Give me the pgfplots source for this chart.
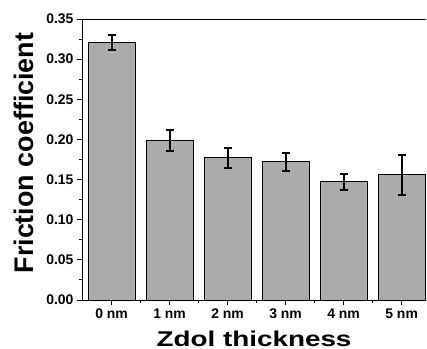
\documentclass[border=0pt]{standalone}
\usepackage{pgfplots}
\pgfplotsset{compat=1.18}
\usepackage{fontspec}
\setmainfont{Liberation Sans}
\newfontfamily\widefont[FakeStretch=1.3]{Liberation Sans}
\begin{document}
\begin{tikzpicture}
\begin{axis}[
  scale only axis,
  width=344bp, height=281bp,
  xmin=-0.51, xmax=5.42,
  ymin=0, ymax=0.35,
  axis x line=box,
  axis y line=left,
  axis line style={-, line width=1pt, black},
  xtick={0,1,2,3,4,5},
  xticklabels={0 nm,1 nm,2 nm,3 nm,4 nm,5 nm},
  minor xtick={0.5,1.5,2.5,3.5,4.5},
  xtick pos=bottom,
  ytick={0,0.05,0.1,0.15,0.2,0.25,0.3,0.35},
  yticklabels={{0.00},{0.05},{0.10},{0.15},{0.20},{0.25},{0.30},{0.35}},
  minor y tick num=1,
  ytick pos=left,
  tick align=outside,
  major tick length=5bp,
  minor tick length=3bp,
  every tick/.style={black, line width=0.9pt},
  x tick label style={font=\fontsize{14}{16}\selectfont\bfseries},
  y tick label style={font=\fontsize{14}{16}\selectfont\bfseries},
  xlabel={Zdol thickness},
  ylabel={Friction coefficient},
  xlabel style={font=\widefont\fontsize{21.5}{24}\selectfont\bfseries,
    at={(axis description cs:0.5,-0.1637)}, anchor=base},
  ylabel style={font=\fontsize{27}{30}\selectfont\bfseries,
    at={(axis description cs:-0.1424,0.523)}, anchor=base},
  /pgf/number format/assume math mode=true,
]
\addplot[ybar, bar width=0.81, fill=black!33, draw=black, line width=1pt,
  error bars/.cd, y dir=both, y explicit,
  error bar style={line width=2pt, black},
  error mark options={rotate=90, mark size=4bp, line width=2pt}]
  coordinates {
  (0,0.321) +- (0,0.009)
  (1,0.199) +- (0,0.013)
  (2,0.177) +- (0,0.012)
  (3,0.172) +- (0,0.011)
  (4,0.147) +- (0,0.010)
  (5,0.156) +- (0,0.025)
};
\coordinate (bl) at (rel axis cs:0,0);
\coordinate (tr) at (rel axis cs:1,1);
\end{axis}
\pgfresetboundingbox
\path[use as bounding box] ([shift={(-82bp,-49bp)}]bl) rectangle ([shift={(1bp,19bp)}]tr);
\end{tikzpicture}
\end{document}
